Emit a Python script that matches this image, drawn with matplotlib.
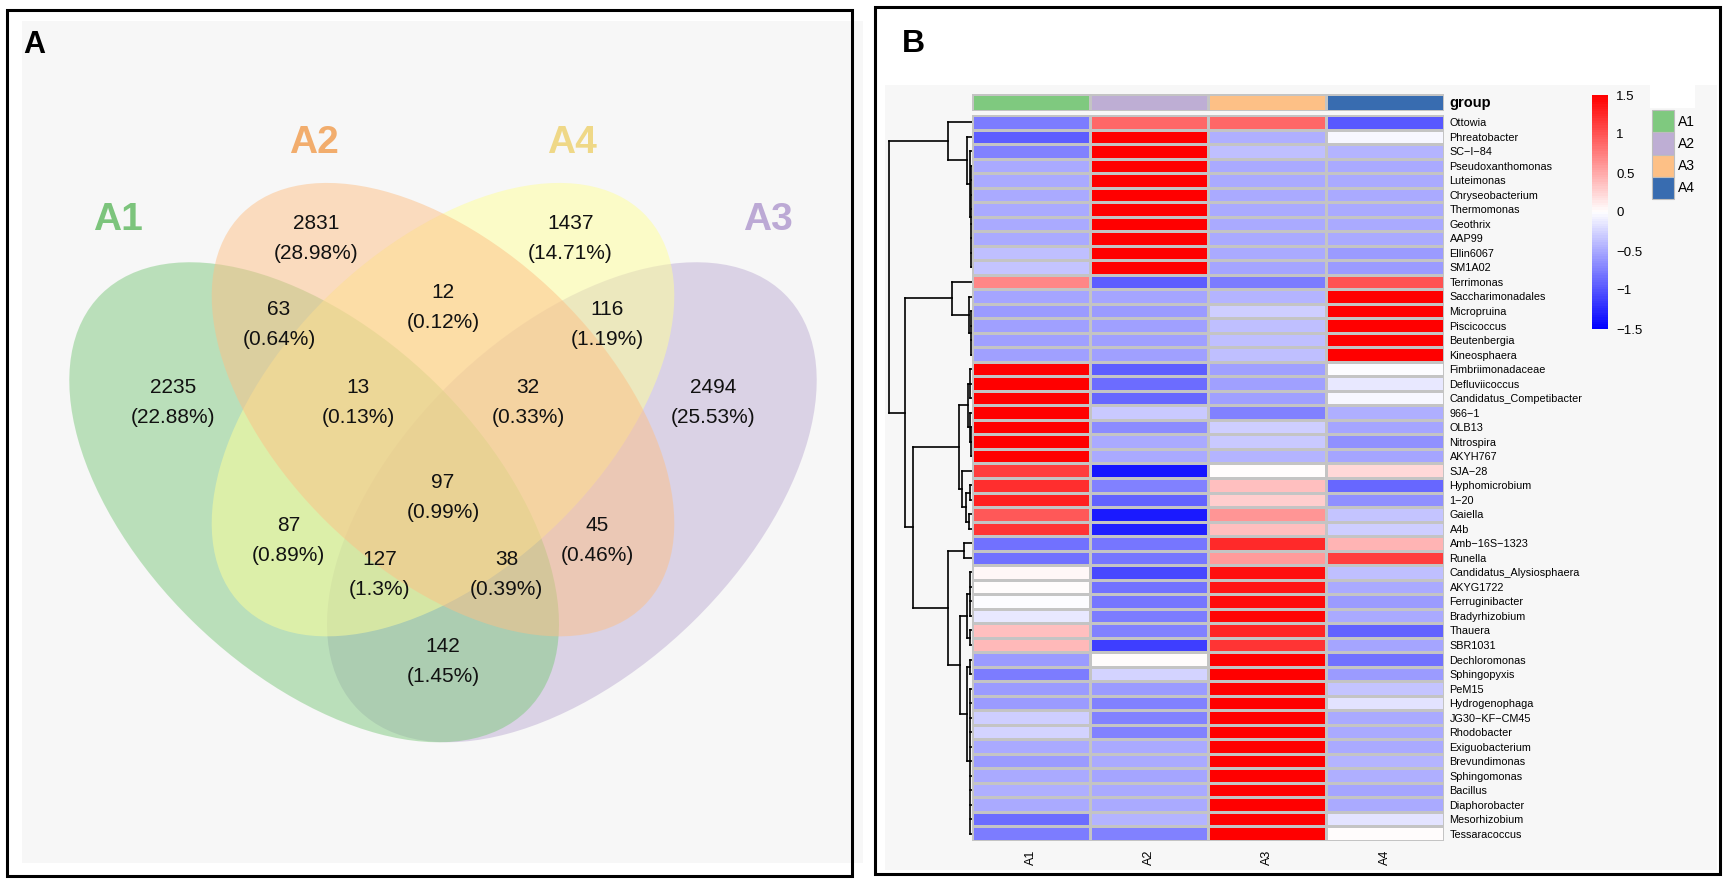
import numpy as np
import matplotlib
matplotlib.use("Agg")
import matplotlib.pyplot as plt
from matplotlib.patches import Ellipse, Rectangle
from matplotlib.colors import LinearSegmentedColormap, ListedColormap, Normalize

plt.rcParams['font.family'] = ['Liberation Sans', 'DejaVu Sans']

W, H = 1736, 883

# ---------------- data: panel A (Venn) ----------------
venn_sets = ['A1', 'A2', 'A4', 'A3']
venn_fill = ['#7FC97F', '#FDC086', '#FFFF99', '#BEAED4']
venn_label_col = ['#7CC47C', '#F2AD6D', '#EFD887', '#BCA9D5']
region_counts = [2831, 1437, 12, 63, 116, 2235, 13, 32, 2494, 97, 87, 45, 127, 38, 142]
region_pct = ['28.98%', '14.71%', '0.12%', '0.64%', '1.19%', '22.88%', '0.13%',
              '0.33%', '25.53%', '0.99%', '0.89%', '0.46%', '1.3%', '0.39%', '1.45%']

# ---------------- data: panel B (heatmap) ----------------
genera = ['Ottowia', 'Phreatobacter', 'SC\u2212I\u221284', 'Pseudoxanthomonas', 'Luteimonas',
          'Chryseobacterium', 'Thermomonas', 'Geothrix', 'AAP99', 'Ellin6067', 'SM1A02',
          'Terrimonas', 'Saccharimonadales', 'Micropruina', 'Piscicoccus', 'Beutenbergia',
          'Kineosphaera', 'Fimbriimonadaceae', 'Defluviicoccus', 'Candidatus_Competibacter',
          '966\u22121', 'OLB13', 'Nitrospira', 'AKYH767', 'SJA\u221228', 'Hyphomicrobium',
          '1\u221220', 'Gaiella', 'A4b', 'Amb\u221216S\u22121323', 'Runella',
          'Candidatus_Alysiosphaera', 'AKYG1722', 'Ferruginibacter', 'Bradyrhizobium',
          'Thauera', 'SBR1031', 'Dechloromonas', 'Sphingopyxis', 'PeM15', 'Hydrogenophaga',
          'JG30\u2212KF\u2212CM45', 'Rhodobacter', 'Exiguobacterium', 'Brevundimonas',
          'Sphingomonas', 'Bacillus', 'Diaphorobacter', 'Mesorhizobium', 'Tessaracoccus']
groups = ['A1', 'A2', 'A3', 'A4']
group_colors = ['#7FC97F', '#BEAED4', '#FDC086', '#386CB0']

z_A1 = [-0.77, -0.95, -0.74, -0.5, -0.5, -0.5, -0.5, -0.5, -0.5, -0.38, -0.35,
        0.71, -0.53, -0.59, -0.55, -0.56, -0.56,
        1.5, 1.5, 1.5, 1.5, 1.5, 1.5, 1.5,
        1.12, 1.2, 1.29, 0.98, 1.17,
        -0.83, -0.83,
        0.04, 0.0, -0.01, -0.13, 0.38, 0.41,
        -0.59, -0.77, -0.59, -0.59, -0.29, -0.26, -0.5, -0.59, -0.5, -0.47, -0.5, -0.86, -0.77]
z_A2 = [0.89, 1.5, 1.5, 1.5, 1.5, 1.5, 1.5, 1.5, 1.5, 1.5, 1.5,
        -0.95, -0.53, -0.59, -0.55, -0.56, -0.56,
        -0.95, -0.85, -0.9, -0.32, -0.68, -0.5, -0.5,
        -1.35, -0.74, -0.92, -1.32, -1.29,
        -0.8, -0.8,
        -1.06, -0.83, -0.8, -0.77, -0.74, -1.14,
        0.0, -0.26, -0.59, -0.74, -0.74, -0.74, -0.5, -0.5, -0.53, -0.5, -0.5, -0.44, -0.74]
z_A3 = [0.89, -0.47, -0.38, -0.5, -0.5, -0.5, -0.5, -0.5, -0.5, -0.5, -0.53,
        -0.77, -0.44, -0.29, -0.38, -0.38, -0.38,
        -0.55, -0.55, -0.55, -0.74, -0.29, -0.32, -0.44,
        0.0, 0.38, 0.29, 0.62, 0.38,
        1.23, 0.59,
        1.4, 1.35, 1.42, 1.45, 1.26, 1.17,
        1.5, 1.5, 1.5, 1.5, 1.5, 1.5, 1.5, 1.5, 1.5, 1.5, 1.5, 1.5, 1.5]
z_A4 = [-0.98, -0.04, -0.44, -0.5, -0.5, -0.5, -0.5, -0.5, -0.5, -0.59, -0.59,
        1.01, 1.5, 1.5, 1.5, 1.5, 1.5,
        -0.01, -0.13, -0.04, -0.47, -0.53, -0.65, -0.53,
        0.23, -0.89, -0.65, -0.35, -0.29,
        0.44, 1.11,
        -0.38, -0.5, -0.59, -0.5, -0.92, -0.53,
        -0.83, -0.59, -0.35, -0.16, -0.5, -0.5, -0.5, -0.44, -0.47, -0.53, -0.5, -0.16, 0.0]

# row clustering: [merge height, child, child, ...]; ints are row indices
row_tree = [1.0,
            [0.29, 0, [0.06, 1, [0.02, 2, [0.008, 3, 4, 5, 6, 7, 8, 9, 10]]]],
            [0.81,
             [0.24, 11, [0.04, 12, [0.01, 13, 14, 15, 16]]],
             [0.71,
              [0.16,
               [0.05, [0.02, 17, 18, 19], [0.03, 20, [0.015, 21, 22, 23]]],
               [0.12, 24, [0.07, [0.03, 25, 26], [0.04, 27, 28]]]],
              [0.29,
               [0.10, 29, 30],
               [0.145,
                [0.06, [0.03, 31, 32, 33, 34], [0.02, 35, 36]],
                [0.06, [0.03, 37, 38], [0.02, 39, 40, 41, 42, 43, 44, 45, 46, 47, 48, 49]]]]]]]

cb_ticks = [1.5, 1, 0.5, 0, -0.5, -1, -1.5]


def fig_rect(x0, y0, x1, y1):
    # pixel box (top-left origin) -> figure fraction
    return [x0 / W, (H - y1) / H, (x1 - x0) / W, (y1 - y0) / H]


fig = plt.figure(figsize=(W / 100, H / 100), dpi=100, facecolor='white')

# background canvas: grey panels, frames, panel letters, legend
bg = fig.add_axes([0, 0, 1, 1])
bg.set_xlim(0, W)
bg.set_ylim(H, 0)
bg.axis('off')
bg.add_patch(Rectangle((22, 21), 841, 842, facecolor='#F7F7F7', edgecolor='none'))
bg.add_patch(Rectangle((885, 85), 832, 785, facecolor='#F7F7F7', edgecolor='none'))
bg.add_patch(Rectangle((7, 10), 845, 866, facecolor='none', edgecolor='black', lw=2.2))
bg.add_patch(Rectangle((875, 7), 845, 867, facecolor='none', edgecolor='black', lw=2.2))
bg.text(23, 53, 'A', fontsize=22, fontweight='bold', ha='left', va='baseline')
bg.text(902, 52, 'B', fontsize=23, fontweight='bold', ha='left', va='baseline')

# ---------------- panel A: Venn ----------------
va = fig.add_axes([13.5 / W, (H - 898) / H, 859 / W, 842 / H])
va.set_xlim(0, 1)
va.set_ylim(0, 1)
va.axis('off')
ell_layout = [((0.35, 0.47), 0.35, 0.20, -45),
              ((0.50, 0.58), 0.33, 0.19, -45),
              ((0.50, 0.58), 0.33, 0.19, 45),
              ((0.65, 0.47), 0.35, 0.20, 45)]
# painting order of the reference: A3, A1, A4, A2
for k in [3, 0, 2, 1]:
    c, a, b, ang = ell_layout[k]
    va.add_patch(Ellipse(c, 2 * a, 2 * b, angle=ang, facecolor=venn_fill[k],
                         edgecolor='none', alpha=0.5))

set_label_pos = [(0.122, 0.805), (0.350, 0.897), (0.650, 0.897), (0.878, 0.805)]
for name, col, (x, y) in zip(venn_sets, venn_label_col, set_label_pos):
    va.text(x, y, name, color=col, fontsize=28, fontweight='bold', ha='center', va='center')

region_pos = [(0.352, 0.783), (0.648, 0.783), (0.500, 0.701), (0.309, 0.681), (0.691, 0.681),
              (0.186, 0.589), (0.401, 0.589), (0.599, 0.589), (0.814, 0.589), (0.500, 0.476),
              (0.320, 0.425), (0.680, 0.425), (0.426, 0.384), (0.574, 0.384), (0.500, 0.281)]
dy = 15 / 842
for n, p, (x, y) in zip(region_counts, region_pct, region_pos):
    va.text(x, y + dy, str(n), fontsize=15, ha='center', va='center', color='#111111')
    va.text(x, y - dy, '(' + p + ')', fontsize=15, ha='center', va='center', color='#111111')

# ---------------- panel B: heatmap ----------------
Z = np.array([z_A1, z_A2, z_A3, z_A4]).T
cmap = LinearSegmentedColormap.from_list('bwr_ph', ['#0000FF', '#FFFFFF', '#FF0000'], N=100)
norm = Normalize(-1.5, 1.5)
n_rows = len(genera)

hx0, hx1, hy0, hy1 = 972, 1444, 115, 841
hm = fig.add_axes(fig_rect(hx0, hy0, hx1, hy1))
hm.pcolormesh(np.arange(5), np.arange(n_rows + 1), Z, cmap=cmap, norm=norm,
              edgecolors='#C4C4C4', linewidth=0.8)
hm.set_xlim(0, 4)
hm.set_ylim(n_rows, 0)
for s in hm.spines.values():
    s.set_visible(False)
hm.yaxis.tick_right()
hm.set_yticks(np.arange(n_rows) + 0.5)
hm.set_yticklabels(genera, fontsize=7.8)
hm.set_xticks(np.arange(4) + 0.5)
hm.set_xticklabels(groups, rotation=90, fontsize=9)
hm.tick_params(length=0, pad=4)
hm.tick_params(axis='x', pad=6)

# group annotation bar
an = fig.add_axes(fig_rect(hx0, 94, hx1, 111))
an.pcolormesh(np.arange(5), [0, 1], np.arange(4).reshape(1, 4),
              cmap=ListedColormap(group_colors), vmin=-0.5, vmax=3.5,
              edgecolors='#C4C4C4', linewidth=0.8)
an.set_xlim(0, 4)
an.set_ylim(1, 0)
an.axis('off')
bg.text(1449, 103, 'group', fontsize=10.5, fontweight='bold', ha='left', va='center')

# dendrogram
dd = fig.add_axes(fig_rect(880, hy0, hx0, hy1))
dd.set_xlim(92 / 83, 0)
dd.set_ylim(n_rows, 0)
dd.axis('off')


def draw_tree(ax, node):
    if isinstance(node, int):
        return node + 0.5, 0.0
    h = node[0]
    kids = [draw_tree(ax, c) for c in node[1:]]
    ys = [k[0] for k in kids]
    for y, ch in kids:
        ax.plot([ch, h], [y, y], color='black', lw=1.2, solid_capstyle='projecting')
    ax.plot([h, h], [min(ys), max(ys)], color='black', lw=1.2, solid_capstyle='projecting')
    return (min(ys) + max(ys)) / 2, h


draw_tree(dd, row_tree)

# colour key
cb = fig.add_axes(fig_rect(1592, 95, 1608, 329))
lev = np.linspace(-1.5, 1.5, 101)
cb.pcolormesh([0, 1], lev, ((lev[:-1] + lev[1:]) / 2).reshape(-1, 1), cmap=cmap, norm=norm)
cb.set_xlim(0, 1)
cb.set_ylim(-1.5, 1.5)
for s in cb.spines.values():
    s.set_visible(False)
cb.set_xticks([])
cb.yaxis.tick_right()
cb.set_yticks(cb_ticks)
cb.set_yticklabels([f'{t:g}'.replace('-', '\u2212') for t in cb_ticks], fontsize=9.5)
cb.tick_params(length=0, pad=6)

# group legend
bg.add_patch(Rectangle((1650, 85), 45, 23, facecolor='white', edgecolor='none'))
for i, (g, col) in enumerate(zip(groups, group_colors)):
    y0 = 110 + i * 22.3
    bg.add_patch(Rectangle((1652, y0), 22, 22.3, facecolor=col, edgecolor='#BDBDBD', lw=0.8))
    bg.text(1678, y0 + 11.5, g, fontsize=10, ha='left', va='center')

fig.savefig('out.png', dpi=100, facecolor='white')
